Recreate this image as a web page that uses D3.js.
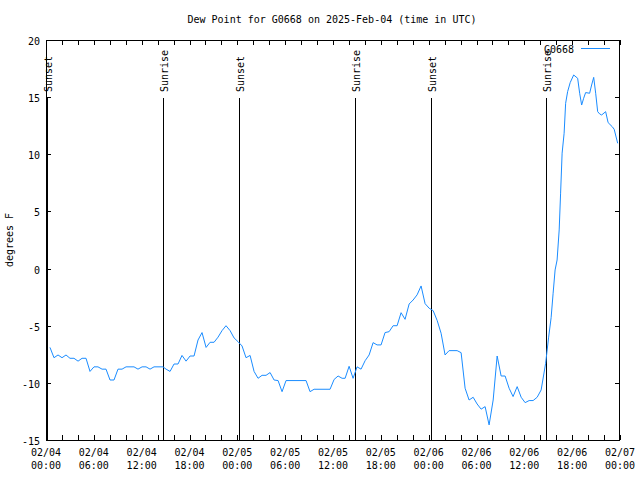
<!DOCTYPE html>
<html><head><meta charset="utf-8">
<script src="https://cdn.jsdelivr.net/npm/d3@7/dist/d3.min.js"></script>
<style>body{margin:0;background:#fff}svg{display:block}text{font-family:"DejaVu Sans Mono",monospace;font-size:10px;fill:#000}</style>
</head><body><svg id="c" width="640" height="480"></svg>
<script>
// hours after 2025-02-04 00:00 UTC
const hours = [0.50,1.00,1.51,2.01,2.51,3.01,3.51,4.02,4.52,5.02,5.52,6.02,6.52,7.03,7.53,8.03,8.53,9.03,9.54,10.04,11.04,11.54,12.05,12.55,13.05,13.55,14.68,15.06,15.56,16.06,16.56,17.06,17.57,18.07,18.57,19.07,19.57,20.08,20.58,21.08,21.58,22.08,22.58,23.09,23.59,24.09,24.59,25.09,25.60,26.10,26.60,27.10,27.60,28.11,28.61,29.11,29.61,30.11,32.62,33.12,33.63,35.63,36.14,36.64,37.14,37.52,38.02,38.52,39.02,39.52,40.03,40.53,41.03,41.53,42.03,42.53,43.04,43.54,44.04,44.54,45.04,45.55,46.05,46.55,47.05,47.55,48.06,48.56,49.06,49.56,50.06,50.56,51.57,52.07,52.57,53.07,53.58,54.08,54.58,55.08,55.58,56.09,56.59,57.09,57.59,58.09,58.59,59.10,59.60,60.10,60.60,61.10,61.61,62.11,62.67,63.05,63.36,63.61,63.86,64.11,64.37,64.55,64.74,64.99,65.18,65.43,65.75,66.19,66.69,66.94,67.19,67.44,67.69,68.19,68.44,68.70,68.95,69.20,69.45,69.70,70.20,70.51,71.02,71.27,71.71];
const dewpoint = [-6.9,-7.8,-7.56,-7.8,-7.56,-7.85,-7.85,-8.1,-7.85,-7.85,-9.0,-8.6,-8.6,-8.8,-8.8,-9.75,-9.75,-8.8,-8.8,-8.6,-8.6,-8.8,-8.6,-8.6,-8.8,-8.6,-8.6,-8.8,-9.0,-8.35,-8.35,-7.6,-8.1,-7.65,-7.65,-6.25,-5.6,-6.9,-6.45,-6.45,-6.0,-5.43,-5.0,-5.43,-6.07,-6.4,-6.77,-7.8,-7.6,-9.0,-9.6,-9.34,-9.34,-9.1,-9.75,-9.8,-10.77,-9.8,-9.8,-10.77,-10.56,-10.56,-9.7,-9.4,-9.6,-9.6,-8.55,-9.6,-8.6,-8.8,-8.06,-7.56,-6.48,-6.68,-6.68,-5.6,-5.52,-5.0,-5.0,-3.86,-4.44,-3.1,-2.75,-2.3,-1.52,-3.07,-3.47,-3.68,-4.53,-5.66,-7.56,-7.18,-7.18,-7.36,-10.47,-11.5,-11.26,-11.85,-12.3,-12.08,-13.68,-11.5,-7.65,-9.4,-9.4,-10.47,-11.2,-10.33,-11.26,-11.73,-11.55,-11.55,-11.26,-10.62,-8.3,-6.0,-4.3,-2.16,-0.12,0.75,3.38,6.6,10.1,11.84,14.46,15.48,16.27,16.94,16.65,15.34,14.31,14.9,15.4,15.34,16.06,16.73,15.34,13.73,13.53,13.44,13.73,12.77,12.42,12.19,10.96];
const sunEvents = ["Sunset","Sunrise","Sunset","Sunrise","Sunset","Sunrise"];
const sunHours = [0.13,14.72,24.25,38.81,48.34,62.77];
const yTicks = [20,15,10,5,0,-5,-10,-15];
const seriesName = "G0668";
const titleText = "Dew Point for G0668 on 2025-Feb-04 (time in UTC)";
const yLabel = "degrees F";

const t0 = Date.UTC(2025,1,4,0,0);
const toDate = h => new Date(t0 + h*3600e3);
const L=46, R=620, T=40, B=440;
const svg = d3.select("#c");
const x = d3.scaleUtc().domain([toDate(0), toDate(72)]).range([L,R]);
const y = d3.scaleLinear().domain([-15,20]).range([B,T]);
const blue = "#1a8cff";

svg.append("text").attr("x",332).attr("y",23).attr("text-anchor","middle").text(titleText);
svg.append("text").attr("transform","translate(13,240) rotate(-90)").attr("text-anchor","middle").text(yLabel);

// y ticks
const g = svg.append("g").attr("shape-rendering","crispEdges");
yTicks.forEach(v=>{
  const yy = Math.round(y(v))+0.5;
  g.append("line").attr("x1",L).attr("x2",L+5).attr("y1",yy).attr("y2",yy).attr("stroke","#000");
  g.append("line").attr("x1",R-5).attr("x2",R).attr("y1",yy).attr("y2",yy).attr("stroke","#000");
  svg.append("text").attr("x",40).attr("y",yy+4).attr("text-anchor","end").text(v);
});
// x ticks
const minor = d3.utcHour.every(2).range(toDate(0), toDate(72.01));
minor.forEach(d=>{
  const xx = Math.round(x(d))+0.5;
  g.append("line").attr("x1",xx).attr("x2",xx).attr("y1",B).attr("y2",B-5).attr("stroke","#000");
  g.append("line").attr("x1",xx).attr("x2",xx).attr("y1",T).attr("y2",T+5).attr("stroke","#000");
});
const major = d3.utcHour.every(6).range(toDate(0), toDate(72.01));
const fD = d3.utcFormat("%m/%d"), fT = d3.utcFormat("%H:%M");
major.forEach(d=>{
  const xx = x(d);
  svg.append("text").attr("x",xx).attr("y",456).attr("text-anchor","middle").text(fD(d));
  svg.append("text").attr("x",xx).attr("y",469).attr("text-anchor","middle").text(fT(d));
});
// border
g.append("rect").attr("x",L+0.5).attr("y",T+0.5).attr("width",R-L-1).attr("height",B-T).attr("fill","none").attr("stroke","#000");

// sun lines
sunHours.forEach((h,i)=>{
  const xx = Math.round(x(toDate(h)))+0.5;
  g.append("line").attr("x1",xx).attr("x2",xx).attr("y1",y(15)+1).attr("y2",B).attr("stroke","#000");
  svg.append("text").attr("transform",`translate(${xx+4},92) rotate(-90)`).attr("text-anchor","start").text(sunEvents[i]);
});

// data line
const data = hours.map((h,i)=>({d:toDate(h),v:dewpoint[i]}));
svg.append("path").datum(data).attr("fill","none").attr("stroke",blue).attr("stroke-width",1)
  .attr("d", d3.line().x(p=>x(p.d)).y(p=>y(p.v)));

// legend
svg.append("text").attr("x",574).attr("y",53).attr("text-anchor","end").text(seriesName);
g.append("line").attr("x1",581).attr("x2",610).attr("y1",48.5).attr("y2",48.5).attr("stroke",blue);
</script></body></html>
